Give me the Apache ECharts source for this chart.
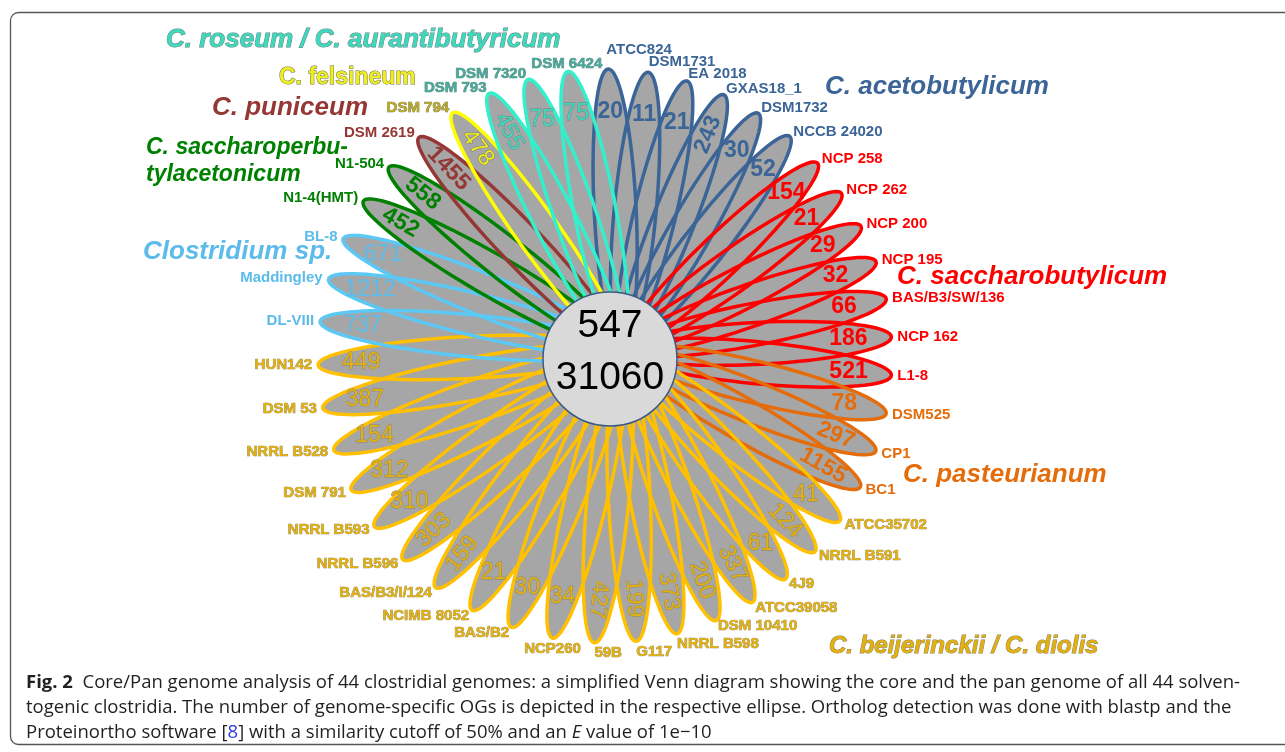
<!DOCTYPE html>
<html>
<head>
<meta charset="utf-8">
<script src="https://cdn.jsdelivr.net/npm/echarts@6/dist/echarts.min.js"></script>
<style>
    * { padding: 0; margin: 0 }
    html, body { width: 100%; height: 100%; background: #fff }
    #container { width: 1285px; height: 752px }
</style>
</head>
<body>
<div id="container"></div>
<script>
// strains clockwise from the top, with their genome-specific OG counts
const strains = ['ATCC824', 'DSM1731', 'EA 2018', 'GXAS18_1', 'DSM1732', 'NCCB 24020',
    'NCP 258', 'NCP 262', 'NCP 200', 'NCP 195', 'BAS/B3/SW/136', 'NCP 162', 'L1-8',
    'DSM525', 'CP1', 'BC1',
    'ATCC35702', 'NRRL B591', '4J9', 'ATCC39058', 'DSM 10410', 'NRRL B598', 'G117', '59B',
    'NCP260', 'BAS/B2', 'NCIMB 8052', 'BAS/B3/I/124', 'NRRL B596', 'NRRL B593', 'DSM 791',
    'NRRL B528', 'DSM 53', 'HUN142',
    'DL-VIII', 'Maddingley', 'BL-8',
    'N1-4(HMT)', 'N1-504',
    'DSM 2619',
    'DSM 794',
    'DSM 793', 'DSM 7320', 'DSM 6424'];
const specificOGs = [20, 11, 21, 243, 30, 52,
    154, 21, 29, 32, 66, 186, 521,
    78, 297, 1155,
    41, 124, 61, 337, 200, 373, 199, 427, 34, 30, 21, 159, 303, 310, 312, 154, 387, 449,
    737, 1212, 671,
    452, 558,
    1455,
    478,
    455, 75, 75];
const species = ['C. acetobutylicum', 'C. saccharobutylicum', 'C. pasteurianum',
    'C. beijerinckii / C. diolis', 'Clostridium sp.', 'C. saccharoperbu-\ntylacetonicum',
    'C. puniceum', 'C. felsineum', 'C. roseum / C. aurantibutyricum'];
const strainsPerSpecies = [6, 7, 3, 18, 3, 2, 1, 1, 3];
const coreGenome = 547;
const panGenome = 31060;

const captionLines = [
    '{b|Fig. 2}  Core/Pan genome analysis of 44 clostridial genomes: a simplified Venn diagram showing the core and the pan genome of all 44 solven-',
    'togenic clostridia. The number of genome-specific OGs is depicted in the respective ellipse. Ortholog detection was done with blastp and the',
    'Proteinortho software [{l|8}] with a similarity cutoff of 50% and an {i|E} value of 1e\u221210'
];

const strainSpecies = [];
strainsPerSpecies.forEach((n, k) => { for (let j = 0; j < n; j++) strainSpecies.push(k); });

// look of each species
const speciesStyle = [
    { line: '#3b6597', text: '#3b6597', bold: true, x: 825, y: 87, size: 26 },
    { line: '#ff0000', text: '#ff0000', bold: true, x: 897, y: 277, size: 26 },
    { line: '#e46c0a', text: '#e46c0a', bold: true, x: 903, y: 475, size: 26 },
    { line: '#ffc000', text: '#e2b111', outline: '#8c8060', x: 829, y: 646, size: 24 },
    { line: '#5bc8f5', text: '#5cbbea', x: 143, y: 252, size: 26 },
    { line: '#008000', text: '#008000', bold: true, x: 146, y: 161, size: 23, lh: 27 },
    { line: '#953735', text: '#953735', bold: true, x: 212, y: 108, size: 26 },
    { line: '#ffff00', text: '#eeee20', label: '#b8aa2c', outline: '#707050', x: 279, y: 78, size: 23, upright: true },
    { line: '#33f0cc', text: '#40d8bc', label: '#4aa898', outline: '#5f8580', x: 166, y: 40, size: 26 }
];
const rotatedCounts = new Set(['GXAS18_1', 'CP1', 'BC1', 'NRRL B591', 'ATCC39058', 'DSM 10410',
    'NRRL B598', 'G117', '59B', 'BAS/B3/I/124', 'NRRL B596', 'N1-4(HMT)', 'N1-504',
    'DSM 2619', 'DSM 794', 'DSM 793']);

const circleCenter = [610, 359];
const petalOrigin = [622, 350];   // petals fan out from here (hidden under the circle)
const tipCenter = [605, 356];     // petal tips sit on a circle round this point
const TIP_RADIUS = 287;
const HALF_WIDTH = 21;
const FONT = '"Liberation Sans", Arial, sans-serif';

function geom(api) {
    const i = api.value(1);
    const c = api.coord([0, i]);
    const d = api.coord([api.value(0), i]);
    const dx = d[0] - c[0], dy = d[1] - c[1];
    const l = Math.hypot(dx, dy);
    const ux = dx / l, uy = dy / l;
    // distance along the ray to the circle of tips
    const wx = c[0] - tipCenter[0], wy = c[1] - tipCenter[1];
    const wu = wx * ux + wy * uy;
    const len = -wu + Math.sqrt(wu * wu - (wx * wx + wy * wy - TIP_RADIUS * TIP_RADIUS));
    return { i, c, t: [c[0] + ux * len, c[1] + uy * len], ux, uy, len };
}

function ellipse(g) {
    const a = g.len / 2, b = HALF_WIDTH;
    const mx = (g.c[0] + g.t[0]) / 2, my = (g.c[1] + g.t[1]) / 2;
    const pts = [];
    for (let k = 0; k < 90; k++) {
        const th = k / 90 * Math.PI * 2;
        pts.push([mx + a * Math.cos(th) * g.ux - b * Math.sin(th) * g.uy,
                  my + a * Math.cos(th) * g.uy + b * Math.sin(th) * g.ux]);
    }
    return pts;
}

function labelPlace(g) {
    const { t, ux, uy } = g;
    if (uy < -0.998) {
        return { x: t[0] - 2, y: t[1] - 12, align: 'left', verticalAlign: 'bottom' };
    }
    if (uy > 0.95) {
        return { x: t[0], y: t[1] + 3, align: ux < -0.15 ? 'center' : 'left', verticalAlign: 'top' };
    }
    const lift = 6 * Math.pow(Math.max(0, -uy), 60);
    let align = ux >= 0 ? 'left' : 'right';
    if (ux < 0 && ux > -0.25 && uy < 0) align = 'center';
    return { x: t[0] + ux * 6, y: t[1] + uy * 6 - lift, align, verticalAlign: 'middle' };
}

const petalData = strains.map((s, i) => [1, i, specificOGs[i]]);

const container = document.getElementById('container');
const myChart = echarts.init(container);

const titleGraphics = species.map((name, k) => {
    const st = speciesStyle[k];
    return {
        type: 'text', z: 50,
        style: {
            x: st.x, y: st.y, text: name,
            font: (st.upright ? '' : 'italic ') + 'bold ' + st.size + 'px ' + FONT,
            fill: st.text,
            stroke: st.outline || null, lineWidth: st.outline ? 1 : 0,
            verticalAlign: 'middle', lineHeight: st.lh || st.size
        }
    };
});

myChart.setOption({
    animation: false,
    polar: { center: petalOrigin, radius: 300 },
    angleAxis: { type: 'category', data: strains, startAngle: 96.89, clockwise: true, show: false },
    radiusAxis: { type: 'value', min: 0, max: 1, show: false },
    series: [
        {
            type: 'custom', coordinateSystem: 'polar', z: 2, data: petalData,
            renderItem: (params, api) => ({
                type: 'polygon', shape: { points: ellipse(geom(api)) },
                style: { fill: '#a6a6a6' }
            })
        },
        {
            type: 'custom', coordinateSystem: 'polar', z: 3, data: petalData,
            renderItem: (params, api) => {
                const g = geom(api);
                return {
                    type: 'polygon', shape: { points: ellipse(g) },
                    style: { fill: null, stroke: speciesStyle[strainSpecies[g.i]].line, lineWidth: 3.5 }
                };
            }
        },
        {
            type: 'custom', coordinateSystem: 'polar', z: 4, data: petalData,
            renderItem: (params, api) => {
                const g = geom(api);
                const st = speciesStyle[strainSpecies[g.i]];
                const name = strains[g.i];
                // count inside the petal, near its tip
                const nx = g.t[0] - g.ux * 43, ny = g.t[1] - g.uy * 43;
                let rot = 0;
                if (rotatedCounts.has(name)) {
                    const ang = Math.atan2(g.uy, g.ux);
                    rot = g.ux > -0.15 ? -ang : -(ang + Math.PI);
                }
                const lp = labelPlace(g);
                return {
                    type: 'group',
                    children: [
                        {
                            type: 'text', x: nx, y: ny, rotation: rot,
                            style: {
                                text: String(api.value(2)),
                                font: (st.bold ? 'bold ' : '') + '23px ' + FONT,
                                fill: st.text, stroke: st.outline || null, lineWidth: st.outline ? 0.8 : 0,
                                align: 'center', verticalAlign: 'middle'
                            }
                        },
                        {
                            type: 'text', x: lp.x, y: lp.y,
                            style: {
                                text: name, font: 'bold 15px ' + FONT,
                                fill: st.label || st.text, stroke: st.outline || null, lineWidth: st.outline ? 0.7 : 0,
                                align: lp.align, verticalAlign: lp.verticalAlign
                            }
                        }
                    ]
                };
            }
        }
    ],
    graphic: [
        {
            type: 'rect', z: 0,
            shape: { x: 10.5, y: 12.5, width: 1300, height: 732, r: 8 },
            style: { fill: 'transparent', stroke: '#555', lineWidth: 1.3 }
        },
        {
            type: 'circle', z: 60,
            shape: { cx: circleCenter[0], cy: circleCenter[1], r: 67 },
            style: { fill: '#d9d9d9', stroke: '#3b5a85', lineWidth: 1.5 }
        },
        {
            type: 'text', z: 61,
            style: { x: circleCenter[0], y: circleCenter[1] - 33, text: String(coreGenome), font: '39px ' + FONT,
                fill: '#000', align: 'center', verticalAlign: 'middle' }
        },
        {
            type: 'text', z: 61,
            style: { x: circleCenter[0], y: circleCenter[1] + 19, text: String(panGenome), font: '39px ' + FONT,
                fill: '#000', align: 'center', verticalAlign: 'middle' }
        },
        ...titleGraphics,
        {
            type: 'text', z: 50,
            style: {
                x: 26, y: 670, text: captionLines.join('\n'),
                font: '18.5px "Open Sans", sans-serif', fill: '#231f20', lineHeight: 25,
                rich: {
                    b: { fontWeight: 'bold', fontSize: 18.5, fontFamily: 'Open Sans', fill: '#231f20' },
                    l: { fontSize: 18.5, fontFamily: 'Open Sans', fill: '#2b3ee0' },
                    i: { fontStyle: 'italic', fontSize: 18.5, fontFamily: 'Open Sans', fill: '#231f20' }
                }
            }
        }
    ]
});
</script>
</body>
</html>
